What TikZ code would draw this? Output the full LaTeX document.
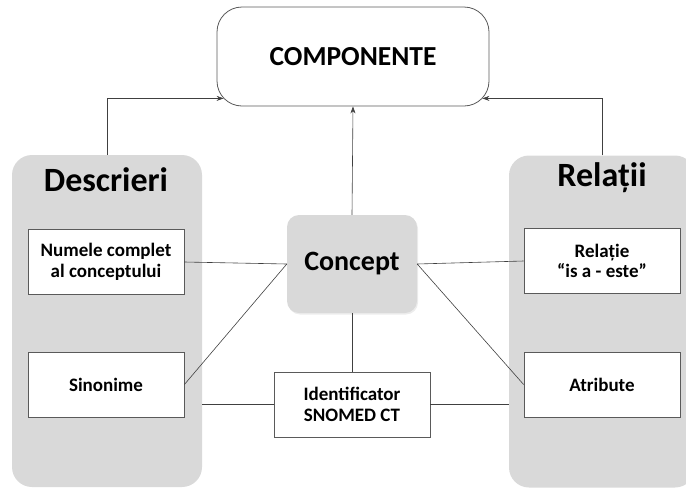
\documentclass[tikz,border=0pt]{standalone}
\usepackage{fontspec}
\setmainfont{Carlito}
\usetikzlibrary{arrows.meta,shadows,calc}

\definecolor{panelgray}{HTML}{D9D9D9}
\definecolor{edgegray}{HTML}{404040}
\definecolor{framegray}{HTML}{5A5A5A}

\tikzset{
  panel/.style={draw=none, fill=panelgray, rounded corners=20pt, inner sep=0pt},
  titletext/.style={font=\fontsize{34}{36}\selectfont\bfseries, inner sep=0pt},
  itembox/.style={draw=framegray, line width=0.8pt, fill=white, minimum width=156pt,
    minimum height=65pt, align=center, inner sep=0pt,
    font=\fontsize{19}{20.5}\selectfont\bfseries},
  conceptbox/.style={fill=panelgray, rounded corners=12pt, minimum width=130pt,
    minimum height=98pt, inner sep=0pt, font=\fontsize{28}{30}\selectfont\bfseries,
    drop shadow={shadow xshift=1pt, shadow yshift=-1.5pt, opacity=0.15, fill=gray}},
  topbox/.style={draw=framegray, line width=0.8pt, fill=white, rounded corners=25pt,
    minimum width=272pt, minimum height=99pt, inner sep=0pt,
    font=\fontsize{27.5}{30}\selectfont\bfseries},
  link/.style={draw=edgegray, line width=0.6pt},
  feed/.style={link, -{Stealth[length=7pt, width=5pt]}}
}

\begin{document}
\begin{tikzpicture}[x=1pt, y=-1pt]
  \useasboundingbox (0,0) rectangle (686,488);
  \clip (0,0) rectangle (686,488);

  % side panels
  \node[panel, minimum width=190pt, minimum height=332pt] (L) at (107,321) {};
  \node[panel, minimum width=186pt, minimum height=332pt] (R) at (602,321.5) {};
  \node[titletext] (Ltitle) at (106,180) {Descrieri};
  \node[titletext] (Rtitle) at (602,178) {Relații};

  % top component box
  \node[topbox] (comp) at (353,56.5) {COMPONENTE};

  % central concept and its neighbours
  \node[conceptbox] (con) at (352,264) {Concept};
  \node[itembox] (num) at (106,262) {Numele complet\\al conceptului};
  \node[itembox] (sin) at (106,384.5) {Sinonime};
  \node[itembox] (rel) at (602,261) {Relație\\“is a - este”};
  \node[itembox] (atr) at (602,384.5) {Atribute};
  \node[itembox] (idf) at (352,404.5) {Identificator\\SNOMED CT};

  % arrow ends on the rounded lower corners of the top box
  \coordinate (cl) at ($(comp.south west)+(7,-8)$);
  \coordinate (cr) at ($(comp.south east)+(-7,-8)$);

  % connectors
  \draw[link] (num.east) -- (con.west);
  \draw[link] (sin.east) -- (con.west);
  \draw[link] (con.east) -- (rel.west);
  \draw[link] (con.east) -- (atr.west);
  \draw[link] (con.south) -- (idf.north);
  \draw[link] (idf.west) -- (idf.west -| L.east);
  \draw[link] (idf.east) -- (idf.east -| R.west);

  \draw[feed] (con.north) -- (comp.south);
  \draw[feed] (L.north) |- (cl);
  \draw[feed] (R.north) |- (cr);
\end{tikzpicture}
\end{document}
